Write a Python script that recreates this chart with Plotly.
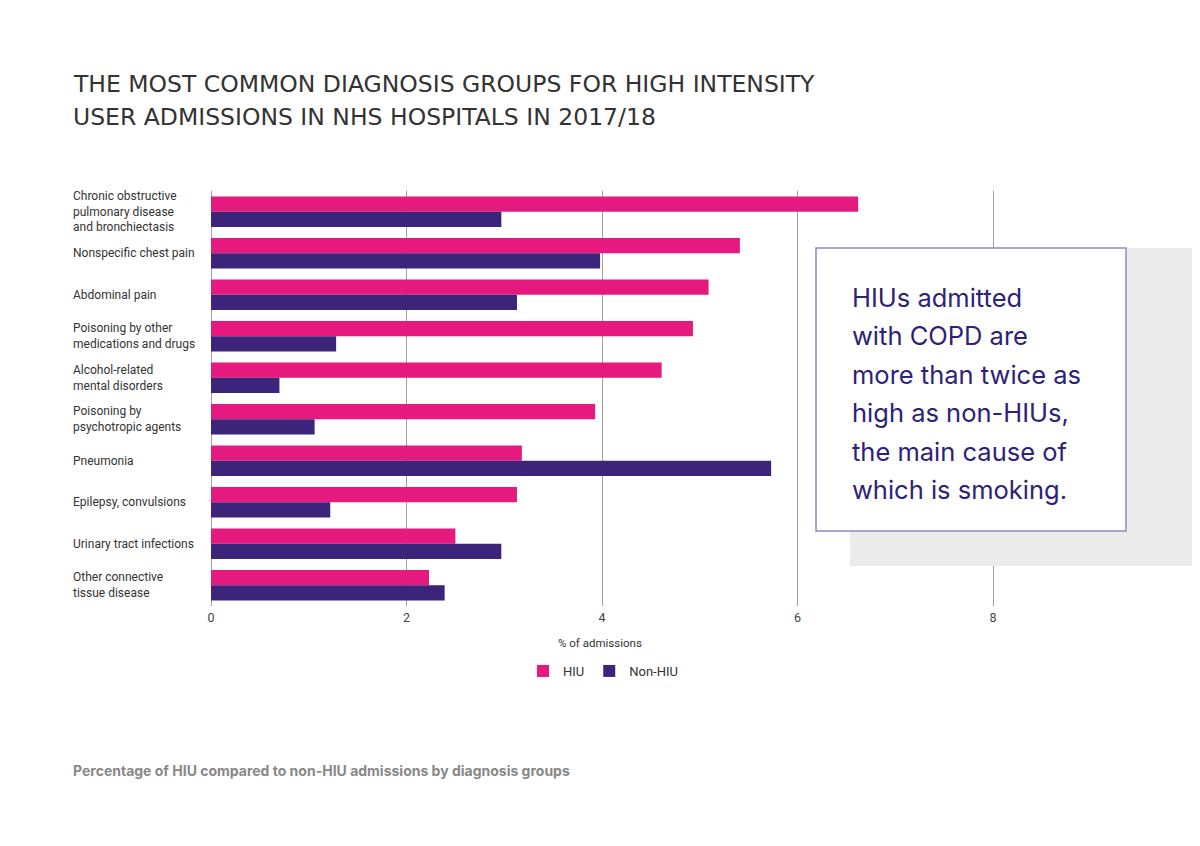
import plotly.graph_objects as go

# データ
categories = [
    "Chronic obstructive<br>pulmonary disease<br>and bronchiectasis",
    "Nonspecific chest pain",
    "Abdominal pain",
    "Poisoning by other<br>medications and drugs",
    "Alcohol-related<br>mental disorders",
    "Poisoning by<br>psychotropic agents",
    "Pneumonia",
    "Epilepsy, convulsions",
    "Urinary tract infections",
    "Other connective<br>tissue disease",
]
hiu = [6.62, 5.41, 5.09, 4.93, 4.61, 3.93, 3.18, 3.13, 2.50, 2.23]
non_hiu = [2.97, 3.98, 3.13, 1.28, 0.70, 1.06, 5.73, 1.22, 2.97, 2.39]
x_ticks = [0, 2, 4, 6, 8]

title_lines = [
    "THE MOST COMMON DIAGNOSIS GROUPS FOR HIGH INTENSITY",
    "USER ADMISSIONS IN NHS HOSPITALS IN 2017/18",
]
callout_lines = [
    "HIUs admitted",
    "with COPD are",
    "more than twice as",
    "high as non-HIUs,",
    "the main cause of",
    "which is smoking.",
]
footnote = "Percentage of HIU compared to non-HIU admissions by diagnosis groups"

PINK = "#E5197E"
PURPLE = "#3B2479"

# ページ余白 8px を差し引いた図のサイズ
OFF = 8
W, H = 1200 - OFF, 846 - OFF
L, T = 211 - OFF, 191 - OFF
R = W - (995 - OFF)
B = H - (606 - OFF)
plot_w = W - L - R
plot_h = H - T - B


def px(x):
    return (x - OFF - L) / plot_w


def py(y):
    return 1 - (y - OFF - T) / plot_h


fig = go.Figure()
fig.add_trace(go.Bar(y=list(range(len(categories))), x=hiu, name="HIU",
                     orientation="h", marker=dict(color=PINK, line=dict(width=0))))
fig.add_trace(go.Bar(y=list(range(len(categories))), x=non_hiu, name="Non-HIU",
                     orientation="h", marker=dict(color=PURPLE, line=dict(width=0))))

annotations = []
# カテゴリラベル(左揃え)
for i, c in enumerate(categories):
    annotations.append(dict(
        xref="paper", yref="y", x=px(71), y=i, text=c, showarrow=False,
        xanchor="left", yanchor="middle", align="left",
        font=dict(family="Roboto", size=12, color="#333333"),
    ))

# タイトル
for j, line in enumerate(title_lines):
    annotations.append(dict(
        xref="paper", yref="paper", x=px(71), y=py(84 + 33 * j), text=line,
        showarrow=False, xanchor="left", yanchor="middle",
        font=dict(family="DejaVu Sans", size=23.5, color="#333333"),
    ))

# コールアウト
for j, line in enumerate(callout_lines):
    annotations.append(dict(
        xref="paper", yref="paper", x=px(850), y=py(297 + 38.5 * j), text=line,
        showarrow=False, xanchor="left", yanchor="middle", align="left",
        font=dict(family="Inter", size=25.5, color="#2E2278"),
    ))

annotations.append(dict(
    xref="paper", yref="paper", x=px(71), y=py(770), text="<b>" + footnote + "</b>",
    showarrow=False, xanchor="left", yanchor="middle",
    font=dict(family="Inter", size=14, color="#888888"),
))

annotations.append(dict(
    xref="paper", yref="paper", x=px(600), y=py(643), text="% of admissions",
    showarrow=False, xanchor="center", yanchor="middle",
    font=dict(family="Roboto", size=11.5, color="#333333"),
))

shapes = [
    dict(type="rect", xref="paper", yref="paper", layer="above",
         x0=px(850), x1=px(1210), y0=py(248), y1=py(566),
         fillcolor="#EBEBEB", line=dict(width=0)),
    dict(type="rect", xref="paper", yref="paper", layer="above",
         x0=px(816), x1=px(1126), y0=py(248), y1=py(531),
         fillcolor="white", line=dict(color="#8E88C2", width=1.5)),
]

fig.update_layout(
    width=W, height=H,
    margin=dict(l=L, r=R, t=T, b=B),
    paper_bgcolor="white", plot_bgcolor="white",
    barmode="group", bargap=0.27, bargroupgap=0,
    xaxis=dict(range=[0, 8.02], tickvals=x_ticks, showgrid=True, gridcolor="#A0A0A0",
               gridwidth=1, zeroline=True, zerolinecolor="#A0A0A0", zerolinewidth=1,
               showline=False, ticks="", ticklabelstandoff=2,
               tickfont=dict(family="Roboto", size=12.5, color="#444444")),
    yaxis=dict(range=[9.5, -0.5], showticklabels=False, showgrid=False,
               zeroline=False, showline=False, ticks=""),
    showlegend=True,
    legend=dict(orientation="h", x=px(603), xanchor="center", y=py(671), yanchor="middle",
                font=dict(family="Roboto", size=13, color="#333333"),
                itemwidth=30, traceorder="normal"),
    annotations=annotations,
    shapes=shapes,
)

fig.write_html("out.html")
